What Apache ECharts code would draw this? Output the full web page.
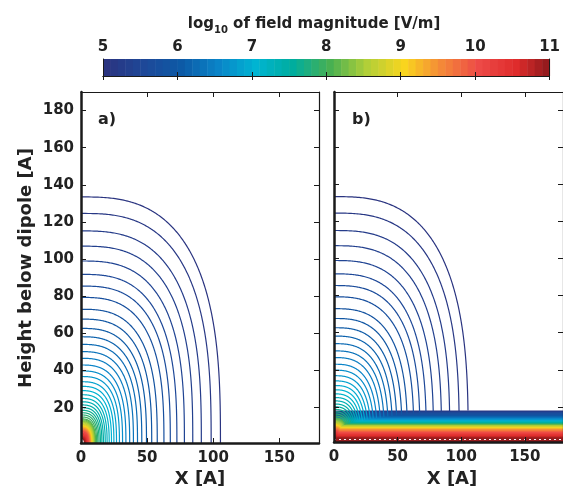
<!DOCTYPE html>
<html>
<head>
<meta charset="utf-8">
<script src="https://cdn.jsdelivr.net/npm/echarts@6/dist/echarts.min.js"></script>
<style>
  html, body { margin: 0; padding: 0; background: #fff; }
  #main { width: 563px; height: 489px; }
</style>
</head>
<body>
<div id="main"></div>
<script>
// contour levels, log10 of |E| in V/m (one colour band each)
const levels = [
  5.0, 5.1, 5.2, 5.3, 5.4, 5.5, 5.6, 5.7, 5.8, 5.9,
  6.0, 6.1, 6.2, 6.3, 6.4, 6.5, 6.6, 6.7, 6.8, 6.9,
  7.0, 7.1, 7.2, 7.3, 7.4, 7.5, 7.6, 7.7, 7.8, 7.9,
  8.0, 8.1, 8.2, 8.3, 8.4, 8.5, 8.6, 8.7, 8.8, 8.9,
  9.0, 9.1, 9.2, 9.3, 9.4, 9.5, 9.6, 9.7, 9.8, 9.9,
  10.0, 10.1, 10.2, 10.3, 10.4, 10.5, 10.6, 10.7, 10.8, 10.9
];
// height where each dipole contour meets x = 0
const contourHeights = [
  133.5, 124.6, 115.2, 107.0, 99.0, 91.8, 85.5, 79.4, 73.0, 67.7,
  62.7, 58.2, 54.1, 50.2, 46.6, 43.0, 39.8, 36.8, 34.0, 31.5,
  29.2, 27.0, 25.0, 23.2, 21.5, 20.0, 18.6, 17.3, 16.1, 15.0,
  14.0, 13.5, 13.0, 12.6, 12.2, 11.8, 11.4, 11.0, 10.6, 10.3,
  10.0, 9.7, 9.4, 9.1, 8.8, 8.5, 8.2, 7.9, 7.6, 7.3,
  7.0, 6.6, 6.2, 5.8, 5.4, 5.0, 4.6, 4.2, 3.8, 3.4
];
// height of each level's flat contour in the surface layer (panel b)
const bandHeights = [
  18.0, 17.8, 17.6, 17.4, 17.2, 17.0, 16.6, 16.2, 15.8, 15.5,
  15.2, 14.9, 14.6, 14.3, 14.0, 13.8, 13.5, 13.2, 13.0, 12.7,
  12.5, 12.3, 12.1, 11.9, 11.7, 11.5, 11.3, 11.1, 10.9, 10.8,
  10.6, 10.5, 10.4, 10.2, 10.0, 9.9, 9.8, 9.5, 9.3, 9.0,
  8.8, 8.6, 8.4, 8.2, 7.9, 7.7, 7.4, 7.1, 6.8, 6.6,
  6.3, 5.9, 5.6, 5.2, 4.9, 4.5, 4.2, 3.9, 3.6, 3.3
];
const colorbarTicks = [5, 6, 7, 8, 9, 10, 11];
const xTicks = [0, 50, 100, 150];
const yTicks = [20, 40, 60, 80, 100, 120, 140, 160, 180];
const xRange = [0, 180];
const yRange = [1, 190];
const dotRowHeight = 2.6;

// jet-like colour map of the colour bar, 5 -> 11
const colorStops = ['#2a3480', '#1e4898', '#0d5aa6', '#0a84c8', '#00b4d2', '#00ad9e', '#48b052',
  '#b2cf38', '#f9d51e', '#f48838', '#ed4a47', '#df2c2c', '#84171a'];

const FONT = '"DejaVu Sans", "Liberation Sans", sans-serif';
const INK = '#1a1a1a';
// outline of one contour: width/height ratio and squareness
const SHAPE_RATIO = 0.79;
const SHAPE_POW = 2.8;

let chart = echarts.init(document.getElementById('main'), null, { renderer: 'canvas' });

// colour bar cells
const cbData = levels.map((v, i) => [v, i + 1 < levels.length ? levels[i + 1] : colorbarTicks[colorbarTicks.length - 1]]);
const panelA = levels.map((v, i) => [v, contourHeights[i]]);
const panelB = levels.map((v, i) => [v, contourHeights[i], bandHeights[i]]);
const bandData = levels.map((v, i) => [v, bandHeights[i]]);

function renderCell(params, api) {
  const p0 = api.coord([api.value(0), 0]);
  const p1 = api.coord([api.value(1), 1]);
  return {
    type: 'rect',
    shape: { x: p0[0], y: p1[1], width: p1[0] - p0[0] + 0.5, height: p0[1] - p1[1] },
    style: { fill: api.visual('color') }
  };
}

// quarter contour around the dipole, height R, cut at height floor
function contourLine(api, R, floor) {
  const pts = [];
  let prev = null;
  const W = R * SHAPE_RATIO;
  for (let k = 0; k <= 180; k++) {
    const th = k / 180 * Math.PI / 2;
    const c = Math.cos(th), s = Math.sin(th);
    const x = W * Math.pow(s, 2 / SHAPE_POW), y = R * Math.pow(c, 2 / SHAPE_POW);
    if (y < floor) {
      if (prev) {
        const t = (prev[1] - floor) / (prev[1] - y);
        pts.push(api.coord([prev[0] + t * (x - prev[0]), floor]));
      }
      break;
    }
    pts.push(api.coord([x, y]));
    prev = [x, y];
  }
  if (pts.length < 2) return { type: 'group', children: [] };
  return {
    type: 'polyline',
    shape: { points: pts },
    style: { stroke: api.visual('color'), fill: null, lineWidth: 1.2 }
  };
}

function renderA(params, api) {
  return contourLine(api, api.value(1), yRange[0]);
}

function renderB(params, api) {
  return contourLine(api, api.value(1), Math.max(api.value(2), yRange[0]));
}

function renderBand(params, api) {
  const tl = api.coord([xRange[0], api.value(1)]);
  const br = api.coord([xRange[1], yRange[0]]);
  return {
    type: 'rect',
    shape: { x: tl[0], y: tl[1], width: br[0] - tl[0], height: br[1] - tl[1] },
    style: { fill: api.visual('color') }
  };
}

const tickLabel = { fontFamily: FONT, fontWeight: 'bold', fontSize: 15, color: '#222' };

function xAx(grid, pos, labels, lineW) {
  return {
    type: 'value', gridIndex: grid, position: pos, min: xRange[0], max: xRange[1], z: 5,
    axisLine: { show: true, onZero: false, lineStyle: { color: INK, width: lineW } },
    axisTick: { show: true, inside: true, length: 5, customValues: xTicks, lineStyle: { color: INK } },
    axisLabel: Object.assign({ show: labels, margin: 8, customValues: xTicks }, tickLabel),
    splitLine: { show: false }
  };
}

function yAx(grid, pos, labels, lineW) {
  return {
    type: 'value', gridIndex: grid, position: pos, min: yRange[0], max: yRange[1], z: 5,
    axisLine: { show: true, onZero: false, lineStyle: { color: INK, width: lineW } },
    axisTick: { show: true, inside: true, length: 5, customValues: yTicks, lineStyle: { color: INK } },
    axisLabel: Object.assign({ show: labels, margin: 7, customValues: yTicks }, tickLabel),
    splitLine: { show: false }
  };
}

const cbAxis = (pos, labels) => ({
  type: 'value', gridIndex: 0, position: pos, min: 5, max: 11, interval: 1, z: 5,
  axisLine: { show: true, lineStyle: { color: INK, width: 1 } },
  axisTick: { show: true, inside: true, length: 4, lineStyle: { color: INK } },
  axisLabel: Object.assign({ show: labels, margin: 4 }, tickLabel),
  splitLine: { show: false }
});

const cbY = pos => ({
  type: 'value', gridIndex: 0, position: pos, min: 0, max: 1, z: 5,
  axisLine: { show: true, lineStyle: { color: INK, width: 1 } },
  axisTick: { show: false }, axisLabel: { show: false }, splitLine: { show: false }
});

chart.setOption({
  animation: false,
  backgroundColor: '#fff',
  grid: [
    { left: 103, top: 59, width: 451, height: 17 },
    { left: 81, top: 92, width: 238, height: 351 },
    { left: 334, top: 92, width: 238, height: 350 }
  ],
  xAxis: [
    cbAxis('top', true), cbAxis('bottom', false),
    xAx(1, 'bottom', true, 2.5), xAx(1, 'top', false, 1.2),
    xAx(2, 'bottom', true, 2.5), xAx(2, 'top', false, 1.2)
  ],
  yAxis: [
    cbY('left'), cbY('right'),
    yAx(1, 'left', true, 2.5), yAx(1, 'right', false, 1.2),
    yAx(2, 'left', false, 2.5), yAx(2, 'right', false, 1.2)
  ],
  visualMap: {
    type: 'continuous', show: false, min: 5, max: 11, dimension: 0,
    seriesIndex: [0, 1, 2, 3],
    inRange: { color: colorStops }
  },
  series: [
    { type: 'custom', xAxisIndex: 0, yAxisIndex: 0, data: cbData, renderItem: renderCell, silent: true },
    { type: 'custom', xAxisIndex: 2, yAxisIndex: 2, data: panelA, renderItem: renderA, silent: true },
    {
      type: 'custom', xAxisIndex: 4, yAxisIndex: 4, data: bandData, renderItem: renderBand, silent: true,
      markLine: {
        silent: true, symbol: 'none', label: { show: false },
        lineStyle: { color: '#fff', type: [2, 3], width: 1 },
        data: [{ yAxis: dotRowHeight }]
      }
    },
    { type: 'custom', xAxisIndex: 4, yAxisIndex: 4, data: panelB, renderItem: renderB, silent: true }
  ],
  graphic: [
    {
      type: 'text', x: 314, y: 24,
      style: {
        text: '{n|log}{s|10}{n| of field magnitude [V/m]}',
        align: 'center', verticalAlign: 'middle',
        rich: {
          n: { fontFamily: FONT, fontWeight: 'bold', fontSize: 15, fill: '#222', verticalAlign: 'middle' },
          s: { fontFamily: FONT, fontWeight: 'bold', fontSize: 10, fill: '#222', padding: [13, 0, 0, 0] }
        }
      }
    },
    {
      type: 'text', x: 26, y: 268, rotation: Math.PI / 2,
      style: { text: 'Height below dipole [A]', align: 'center', verticalAlign: 'middle',
        fontFamily: FONT, fontWeight: 'bold', fontSize: 18, fill: '#222' }
    },
    {
      type: 'text', x: 200, y: 479,
      style: { text: 'X [A]', align: 'center', verticalAlign: 'middle',
        fontFamily: FONT, fontWeight: 'bold', fontSize: 18, fill: '#222' }
    },
    {
      type: 'text', x: 452, y: 479,
      style: { text: 'X [A]', align: 'center', verticalAlign: 'middle',
        fontFamily: FONT, fontWeight: 'bold', fontSize: 18, fill: '#222' }
    },
    {
      type: 'text', x: 98, y: 120,
      style: { text: 'a)', align: 'left', verticalAlign: 'middle',
        fontFamily: FONT, fontWeight: 'bold', fontSize: 16, fill: '#222' }
    },
    {
      type: 'text', x: 352, y: 120,
      style: { text: 'b)', align: 'left', verticalAlign: 'middle',
        fontFamily: FONT, fontWeight: 'bold', fontSize: 16, fill: '#222' }
    }
  ]
});
</script>
</body>
</html>
